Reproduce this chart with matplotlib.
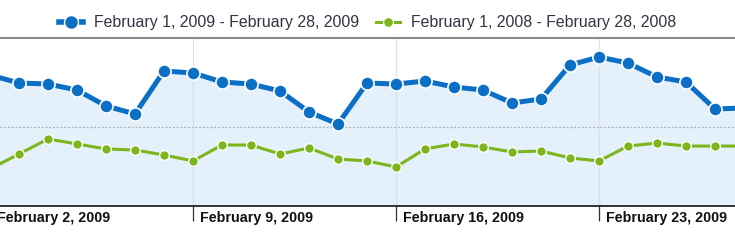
import matplotlib
matplotlib.use("Agg")
import matplotlib.pyplot as plt
import matplotlib.transforms as mtransforms
from matplotlib.lines import Line2D

plt.rcParams['font.family'] = ['Liberation Sans', 'DejaVu Sans']

# days of February shown (Feb 2 .. Feb 28)
days = list(range(2, 29))
visits_2009 = [1658, 1557, 1544, 1468, 1266, 1165, 1709, 1684, 1570, 1544, 1456,
               1190, 1038, 1557, 1544, 1582, 1506, 1468, 1304, 1354, 1785, 1886,
               1810, 1633, 1570, 1228, 1241]
visits_2008 = [468, 658, 848, 785, 722, 709, 646, 570, 772, 772, 658, 734, 595,
               570, 494, 722, 785, 747, 684, 696, 608, 570, 759, 797, 759, 759, 759]
tick_days = [2, 9, 16, 23]
tick_labels = ["February 2, 2009", "February 9, 2009",
               "February 16, 2009", "February 23, 2009"]
legend_labels = ["February 1, 2009 - February 28, 2009",
                 "February 1, 2008 - February 28, 2008"]

blue = "#0b6fc6"
green = "#7cb51c"

fig = plt.figure(figsize=(7.35, 2.44), dpi=100)
ax = fig.add_axes([0, (244 - 206) / 244, 1, (206 - 38) / 244])

ax.fill_between(days, visits_2009, 0, color="#e4f0fa", zorder=1)
for d in tick_days:
    ax.axvline(d, color="#dae1e8", lw=0.9, zorder=1.5)
ax.axhline(1000, color="#a8b0b8", lw=0.9, ls=(0, (1.5, 1.5)), zorder=1.5)

ax.plot(days, visits_2009, color=blue, lw=3.6, marker="o", ms=9.5,
        mfc=blue, mec="white", mew=1.2, zorder=3, solid_capstyle="butt")
ax.plot(days, visits_2008, color=green, lw=2.2, marker="o", ms=7,
        mfc=green, mec="white", mew=1.0, zorder=2.5)

for s in ["left", "right"]:
    ax.spines[s].set_visible(False)
ax.spines["top"].set_color("#8a8a8a")
ax.spines["top"].set_linewidth(1.5)
ax.spines["bottom"].set_color("#222222")
ax.spines["bottom"].set_linewidth(1.3)

ax.set_yticks([])
ax.set_xticks(tick_days)
ax.set_xticklabels([])
ax.tick_params(axis="x", length=11, width=0.9, color="#333333")

# labels sit to the right of each tick mark (Feb 2 tick is off-screen but its label shows)
offset = mtransforms.ScaledTranslation(5 / 72, -3.3 / 72, fig.dpi_scale_trans)
for d, lab in zip(tick_days, tick_labels):
    ax.text(d, 0, lab, transform=ax.get_xaxis_transform() + offset,
            ha="left", va="top", fontsize=10.3, fontweight="bold",
            color="#111111", clip_on=False)

# limits after ticks, so set_xticks does not widen the view
ax.set_xlim(2 + 10 / 29, 2 + 745 / 29)
ax.set_ylim(0, 168 / 0.079)

handles = [Line2D([], [], color=blue, lw=4, marker="o", ms=10, mfc=blue,
                  mec="white", mew=1.0),
           Line2D([], [], color=green, lw=2.2, marker="o", ms=7, mfc=green,
                  mec="white", mew=0.8)]
fig.legend(handles, legend_labels, loc="center", bbox_to_anchor=(0.5, 1 - 23 / 244),
           ncol=2, frameon=False, fontsize=11.4, handlelength=1.5,
           columnspacing=1.1, handletextpad=0.7, labelcolor="#333344")

fig.savefig("out.png", dpi=100)
